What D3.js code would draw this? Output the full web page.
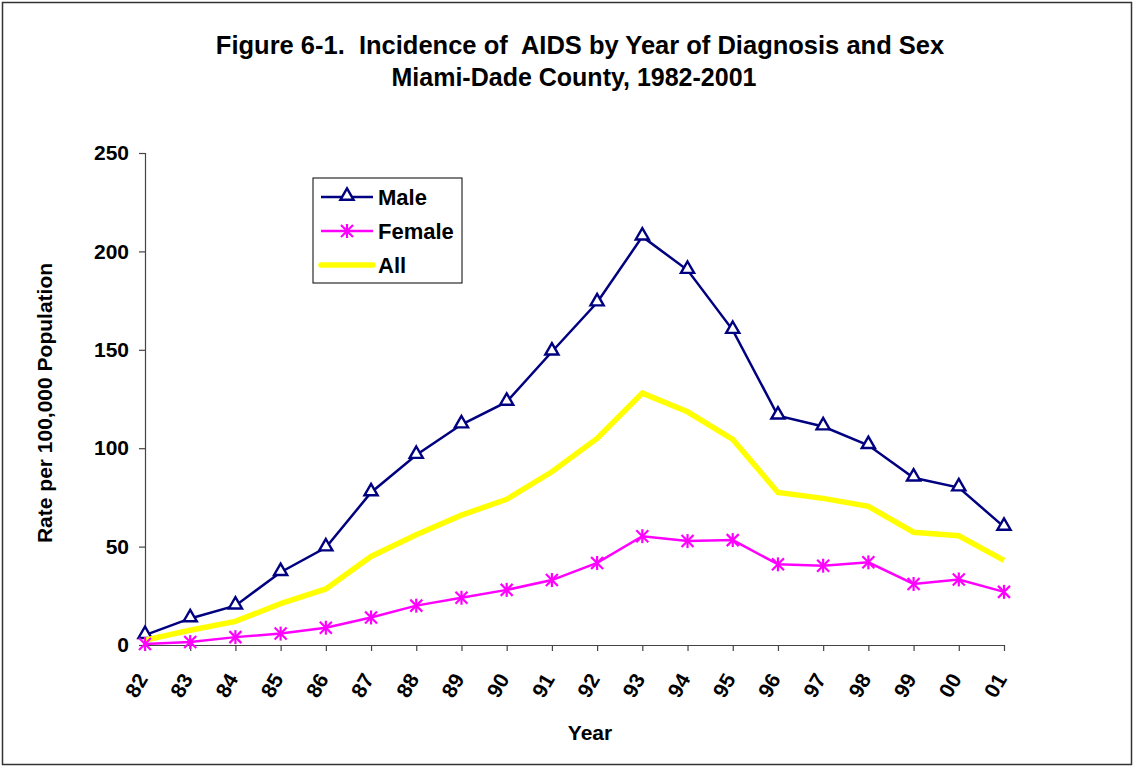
<!DOCTYPE html>
<html>
<head>
<meta charset="utf-8">
<script src="https://cdn.jsdelivr.net/npm/d3@7"></script>
<style>
  body { margin: 0; background: #fff; }
  text { font-family: Arial, "Liberation Sans", sans-serif; font-weight: bold; }
</style>
</head>
<body>
<div id="chart"></div>
<script>
// data
var years = ["82","83","84","85","86","87","88","89","90","91","92","93","94","95","96","97","98","99","00","01"];
var male   = [5, 13.5, 20, 37, 49.5, 77.5, 96.5, 112, 123.5, 149, 174, 207.5, 190.5, 160, 116.5, 111, 101.5, 85, 80, 60];
var female = [0.5, 1.5, 4, 5.8, 8.8, 14, 20, 24, 28, 33, 41.7, 55.3, 52.8, 53.3, 41, 40.3, 42, 31, 33.3, 27];
var all    = [2.5, 7.5, 12, 21, 28.5, 45, 56, 66, 74, 88, 105, 128, 118.5, 104.5, 77.5, 74.5, 70.5, 57.3, 55.5, 43];
var yTicks = [0, 50, 100, 150, 200, 250];

var W = 1134, H = 766;
var margin = { top: 153, right: 130, bottom: 121, left: 145 };
var width = W - margin.left - margin.right,
    height = H - margin.top - margin.bottom;

var svg = d3.select("#chart")
  .append("svg")
  .attr("width", W)
  .attr("height", H);

// rahmen
svg.append("rect")
  .attr("x", 2.5).attr("y", 2.5)
  .attr("width", W - 5).attr("height", H - 4)
  .attr("fill", "#fff")
  .attr("stroke", "#333")
  .attr("stroke-width", 1.5);

// titel
svg.append("text")
  .attr("x", 580).attr("y", 54)
  .attr("text-anchor", "middle")
  .style("font-size", "25.5px")
  .style("white-space", "pre")
  .text("Figure 6-1.  Incidence of  AIDS by Year of Diagnosis and Sex");
svg.append("text")
  .attr("x", 574).attr("y", 86)
  .attr("text-anchor", "middle")
  .style("font-size", "25px")
  .text("Miami-Dade County, 1982-2001");

var g = svg.append("g")
  .attr("transform", "translate(" + margin.left + "," + margin.top + ")");

var x = d3.scalePoint().domain(years).range([0, width]);
var y = d3.scaleLinear().domain([0, 250]).range([height, 0]);

// y achse
var yAxis = g.append("g")
  .call(d3.axisLeft(y).tickValues(yTicks).tickSize(6).tickPadding(10));
yAxis.selectAll("text").style("font-size", "21px").attr("fill", "#000");
yAxis.selectAll("line, path").attr("stroke", "#444").attr("stroke-width", 1.2);

// x achse
var xAxis = g.append("g")
  .attr("transform", "translate(0," + height + ")")
  .call(d3.axisBottom(x).tickSize(6).tickSizeOuter(0));
xAxis.selectAll("line, path").attr("stroke", "#444").attr("stroke-width", 1.2);
xAxis.selectAll("text")
  .attr("fill", "#000")
  .style("font-size", "21px")
  .attr("text-anchor", "end")
  .attr("dy", null)
  .attr("y", null)
  .attr("transform", "translate(3,34) rotate(-60)");

// achsentitel
svg.append("text")
  .attr("transform", "translate(52,403) rotate(-90)")
  .attr("text-anchor", "middle")
  .style("font-size", "21px")
  .text("Rate per 100,000 Population");
svg.append("text")
  .attr("x", 590).attr("y", 740)
  .attr("text-anchor", "middle")
  .style("font-size", "21px")
  .text("Year");

var line = d3.line()
  .x(function(d, i) { return x(years[i]); })
  .y(function(d) { return y(d); });

var triangle = d3.symbol().type(d3.symbolTriangle).size(75);

function drawTriangles(sel, data, color) {
  sel.selectAll(null)
    .data(data)
    .enter()
    .append("path")
    .attr("d", triangle)
    .attr("transform", function(d, i) { return "translate(" + x(years[i]) + "," + (y(d) - 1) + ")"; })
    .attr("fill", "#fff")
    .attr("stroke", color)
    .attr("stroke-width", 2.4);
}

function drawStars(sel, data, color) {
  var s = sel.selectAll(null)
    .data(data)
    .enter()
    .append("g")
    .attr("transform", function(d, i) { return "translate(" + x(years[i]) + "," + y(d) + ")"; })
    .attr("stroke", color)
    .attr("stroke-width", 2.2);
  s.append("line").attr("x1", -6).attr("x2", 6).attr("y1", -6).attr("y2", 6);
  s.append("line").attr("x1", -6).attr("x2", 6).attr("y1", 6).attr("y2", -6);
  s.append("line").attr("x1", 0).attr("x2", 0).attr("y1", -7).attr("y2", 7);
}

// Male
g.append("path").datum(male)
  .attr("d", line).attr("fill", "none")
  .attr("stroke", "#000080").attr("stroke-width", 2.5);
drawTriangles(g, male, "#000080");

// All
g.append("path").datum(all)
  .attr("d", line).attr("fill", "none")
  .attr("stroke", "#ffff00").attr("stroke-width", 5.5);

// Female
g.append("path").datum(female)
  .attr("d", line).attr("fill", "none")
  .attr("stroke", "#ff00ff").attr("stroke-width", 2.5);
drawStars(g, female, "#ff00ff");

// legende
var lg = svg.append("g").attr("transform", "translate(313,178)");
lg.append("rect")
  .attr("width", 149).attr("height", 105)
  .attr("fill", "#fff").attr("stroke", "#000").attr("stroke-width", 1);

var legendItems = [
  { name: "Male", color: "#000080", w: 2.5, mark: "tri" },
  { name: "Female", color: "#ff00ff", w: 2.5, mark: "star" },
  { name: "All", color: "#ffff00", w: 5.5, mark: null }
];
legendItems.forEach(function(d, i) {
  var cy = 19 + i * 34;
  lg.append("line")
    .attr("x1", 8).attr("x2", 60).attr("y1", cy).attr("y2", cy)
    .attr("stroke", d.color).attr("stroke-width", d.w)
    .attr("stroke-linecap", d.mark ? "butt" : "round");
  if (d.mark === "tri") {
    lg.append("path").attr("d", triangle)
      .attr("transform", "translate(34," + (cy - 1) + ")")
      .attr("fill", "#fff").attr("stroke", d.color).attr("stroke-width", 2.4);
  } else if (d.mark === "star") {
    var s = lg.append("g").attr("transform", "translate(34," + cy + ")")
      .attr("stroke", d.color).attr("stroke-width", 2.2);
    s.append("line").attr("x1", -6).attr("x2", 6).attr("y1", -6).attr("y2", 6);
    s.append("line").attr("x1", -6).attr("x2", 6).attr("y1", 6).attr("y2", -6);
    s.append("line").attr("x1", 0).attr("x2", 0).attr("y1", -7).attr("y2", 7);
  }
  lg.append("text")
    .attr("x", 65).attr("y", cy + 8)
    .style("font-size", "22px")
    .text(d.name);
});
</script>
</body>
</html>
